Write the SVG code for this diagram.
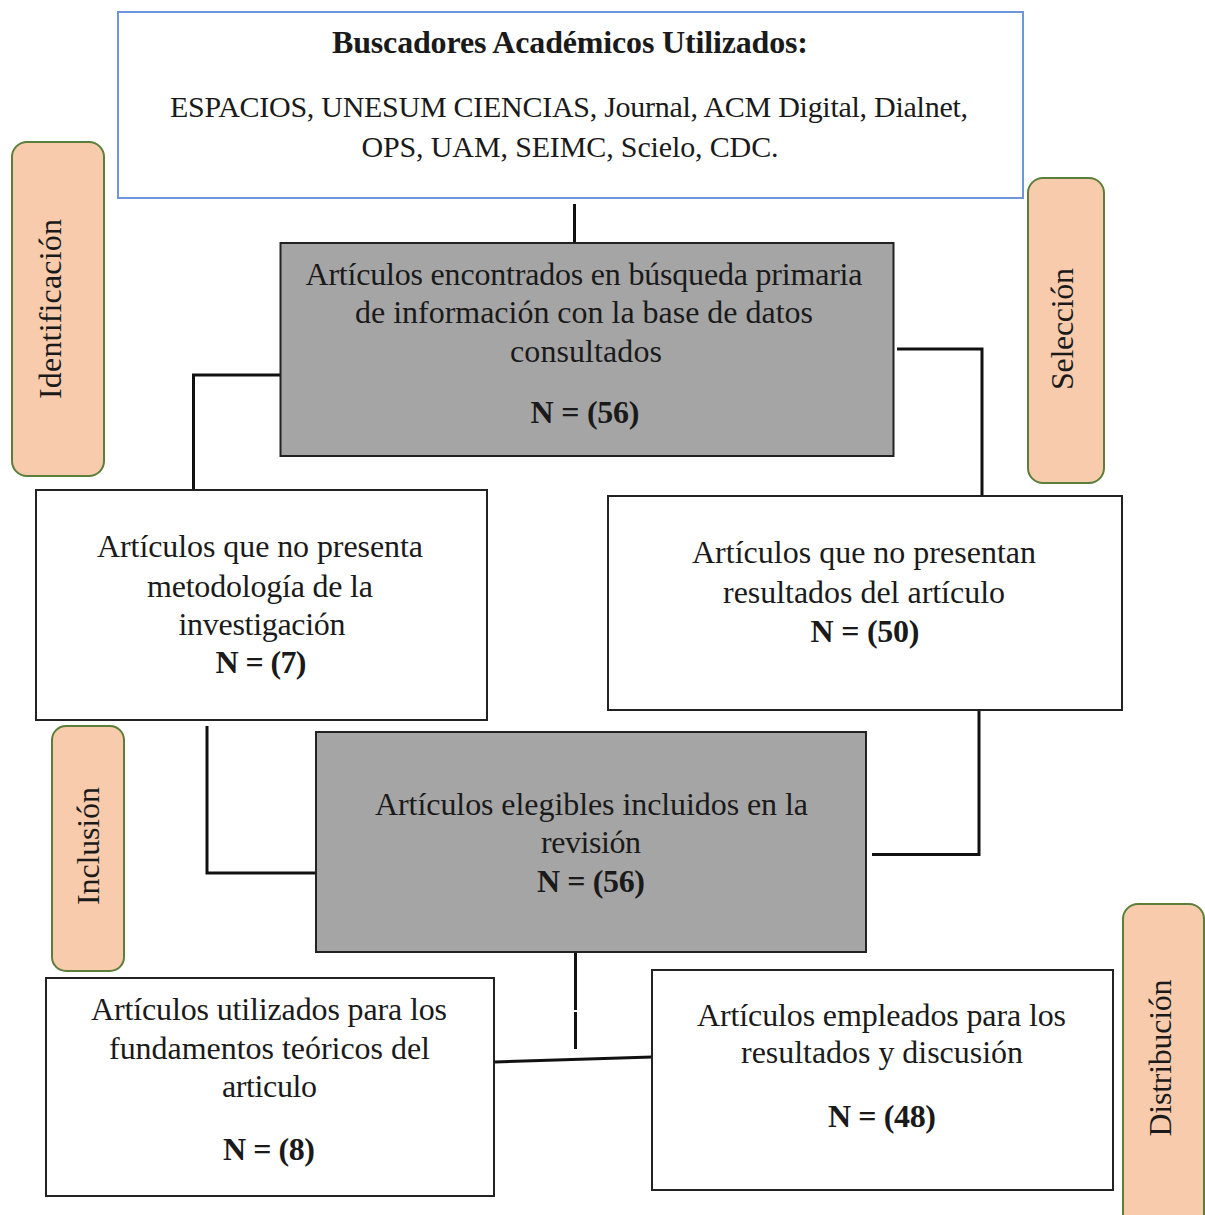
<svg xmlns="http://www.w3.org/2000/svg" width="1205" height="1215" viewBox="0 0 1205 1215">
<style>
text{font-family:"Liberation Serif","Times New Roman",serif;fill:#1a1a1a;text-anchor:middle}
.b{font-size:32px}
.l{font-size:30px}
.n{font-size:32px;font-weight:bold}
.s{font-size:32px}
.box{fill:#ffffff;stroke:#222;stroke-width:2}
.gray{fill:#a5a5a5;stroke:#222;stroke-width:2}
.tag{fill:#f8cbad;stroke:#5b7f3a;stroke-width:2}
.con{fill:none;stroke:#111;stroke-width:3}
</style>
<rect width="1205" height="1215" fill="#ffffff"/>

<g id="connectors">
<path class="con" d="M574.5 204 V243"/>
<path class="con" d="M280 375 H193.5 V490"/>
<path class="con" d="M897 349 H982 V495"/>
<path class="con" d="M207 726 V873 H316"/>
<path class="con" d="M979 711 V854.5 H872"/>
<path class="con" d="M575.5 953 V1010 M575.5 1012 V1049"/>
<path class="con" d="M495 1062 L652 1057"/>
</g>

<g id="buscadores">
<rect x="118" y="12" width="905" height="186" fill="#ffffff" stroke="#6f95dc" stroke-width="2"/>
<text class="n" x="570" y="53" textLength="476">Buscadores Académicos Utilizados:</text>
<text class="l" x="569" y="117" textLength="798">ESPACIOS, UNESUM CIENCIAS, Journal, ACM Digital, Dialnet,</text>
<text class="l" x="570" y="157" textLength="417">OPS, UAM, SEIMC, Scielo, CDC.</text>
</g>

<g id="encontrados">
<rect class="gray" x="280.5" y="243" width="613" height="213"/>
<text class="b" x="584" y="285" textLength="557">Artículos encontrados en búsqueda primaria</text>
<text class="b" x="584" y="323" textLength="458">de información con la base de datos</text>
<text class="b" x="586" y="362" textLength="152">consultados</text>
<text class="n" x="585" y="423" textLength="109">N = (56)</text>
</g>

<g id="sin-metodologia">
<rect class="box" x="36" y="490" width="451" height="230"/>
<text class="b" x="260" y="557" textLength="326">Artículos que no presenta</text>
<text class="b" x="260" y="597" textLength="226">metodología de la</text>
<text class="b" x="262" y="635" textLength="167">investigación</text>
<text class="n" x="261" y="673" textLength="91">N = (7)</text>
</g>

<g id="sin-resultados">
<rect class="box" x="608" y="496" width="514" height="214"/>
<text class="b" x="864" y="563" textLength="344">Artículos que no presentan</text>
<text class="b" x="864" y="603" textLength="282">resultados del artículo</text>
<text class="n" x="865" y="642" textLength="109">N = (50)</text>
</g>

<g id="elegibles">
<rect class="gray" x="316" y="732" width="550" height="220"/>
<text class="b" x="591.5" y="815" textLength="433">Artículos elegibles  incluidos en la</text>
<text class="b" x="591" y="853" textLength="100">revisión</text>
<text class="n" x="591" y="892" textLength="108">N = (56)</text>
</g>

<g id="fundamentos">
<rect class="box" x="46" y="978" width="448" height="218"/>
<text class="b" x="269" y="1020" textLength="356">Artículos utilizados para los</text>
<text class="b" x="269.5" y="1059" textLength="321">fundamentos teóricos del</text>
<text class="b" x="269.5" y="1097" textLength="95">articulo</text>
<text class="n" x="269" y="1160" textLength="92">N = (8)</text>
</g>

<g id="empleados">
<rect class="box" x="652" y="970" width="461" height="220"/>
<text class="b" x="881.5" y="1026" textLength="369">Artículos empleados para los</text>
<text class="b" x="882" y="1063" textLength="282">resultados y discusión</text>
<text class="n" x="882" y="1127" textLength="108">N = (48)</text>
</g>

<g id="identificacion">
<rect class="tag" x="12" y="142" width="92" height="334" rx="15"/>
<text class="s" transform="translate(61,309) rotate(-90)" textLength="180">Identificación</text>
</g>

<g id="seleccion">
<rect class="tag" x="1028" y="178" width="76" height="305" rx="15"/>
<text class="s" transform="translate(1073,329) rotate(-90)" textLength="122">Selección</text>
</g>

<g id="inclusion">
<rect class="tag" x="52" y="726" width="72" height="245" rx="14"/>
<text class="s" transform="translate(99,846) rotate(-90)" textLength="118">Inclusión</text>
</g>

<g id="distribucion">
<rect class="tag" x="1123" y="904" width="81" height="340" rx="15"/>
<text class="s" transform="translate(1171,1058) rotate(-90)" textLength="157">Distribución</text>
</g>
</svg>
